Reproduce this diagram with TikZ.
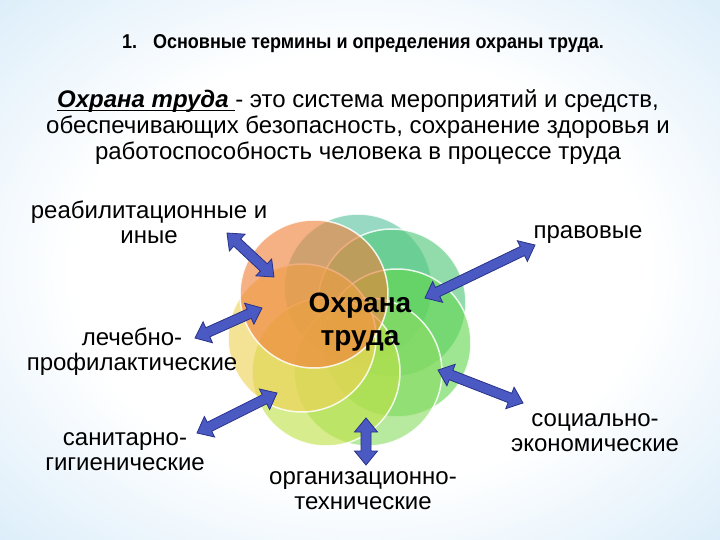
\documentclass[tikz,border=0pt]{standalone}
\usepackage{fontspec}
\setmainfont{Liberation Sans}
\newfontfamily\titlefont{Liberation Sans}[FakeStretch=0.9]
\usetikzlibrary{calc}
\definecolor{bgmid}{RGB}{215,235,249}
\definecolor{bgedge}{RGB}{155,204,240}
\definecolor{csalmon}{RGB}{240,128,58}
\definecolor{cteal}{RGB}{90,195,160}
\definecolor{cgreenA}{RGB}{80,200,120}
\definecolor{cgreenB}{RGB}{100,215,80}
\definecolor{clgreen}{RGB}{140,220,100}
\definecolor{cygreen}{RGB}{192,225,70}
\definecolor{cyellow}{RGB}{240,210,85}
\definecolor{arrfill}{RGB}{75,90,195}
\definecolor{arrline}{RGB}{40,50,135}
\pgfdeclareradialshading{bgshade}{\pgfpoint{0bp}{0bp}}{color(0bp)=(white); color(20bp)=(white); color(38bp)=(bgmid); color(50bp)=(bgedge); color(72bp)=(bgedge)}
\newcommand\myul[1]{\setbox0\hbox{#1}\rlap{\rule[-3.5pt]{\wd0}{1.4pt}}\box0}
\newcommand\dblarrow[2]{%
  \filldraw[arrowstyle] (#1)
    -- ($(#1)!14pt!(#2)!11.5pt!90:(#2)$)
    -- ($(#1)!14pt!(#2)!5pt!90:(#2)$)
    -- ($(#2)!14pt!(#1)!5pt!-90:(#1)$)
    -- ($(#2)!14pt!(#1)!11.5pt!-90:(#1)$)
    -- (#2)
    -- ($(#2)!14pt!(#1)!11.5pt!90:(#1)$)
    -- ($(#2)!14pt!(#1)!5pt!90:(#1)$)
    -- ($(#1)!14pt!(#2)!5pt!-90:(#2)$)
    -- ($(#1)!14pt!(#2)!11.5pt!-90:(#2)$)
    -- cycle;}
\begin{document}
\begin{tikzpicture}[x=1pt,y=-1pt,
  petal/.style={circle, minimum size=148pt, inner sep=0pt, fill opacity=0.62, draw=white, draw opacity=0.85, line width=1.5pt},
  lbl/.style={font=\fontsize{24}{25}\selectfont, align=center, inner sep=0pt},
  arrowstyle/.style={fill=arrfill, draw=arrline, line width=0.8pt, line join=miter}]
\useasboundingbox (0,0) rectangle (720,540);
\shade[shading=bgshade] (0,0) rectangle (720,540);

% petals
\node[petal, fill=cteal]   (p2) at (358,288) {};
\node[petal, fill=cgreenA] (p3) at (392,303) {};
\node[petal, fill=cgreenB] (p4) at (397,343) {};
\node[petal, fill=clgreen] (p5) at (368,372) {};
\node[petal, fill=cygreen] (p6) at (326,372) {};
\node[petal, fill=cyellow] (p7) at (302,338) {};
\node[petal, fill=csalmon] (p1) at (314,294) {};

\node[font=\bfseries\fontsize{28}{33}\selectfont, align=center, inner sep=0pt] (core) at (360,322) {Охрана\\труда};

% header texts
\node[inner sep=0pt] (heading) at (363,44) {\titlefont\bfseries\fontsize{20}{24}\selectfont 1.\hspace{16pt}Основные термины и определения охраны труда.};
\node[font=\fontsize{24}{26}\selectfont, align=center, inner sep=0pt] (defn) at (358,127)
  {\myul{\textbf{\textit{Охрана труда}}\ }- это система мероприятий и средств,\\
   обеспечивающих безопасность, сохранение здоровья и\\
   работоспособность человека в процессе труда};

% labels
\node[lbl] (l1) at (149,222) {реабилитационные и\\иные};
\node[lbl] (l2) at (588,235) {правовые};
\node[lbl] (l3) at (132,352) {лечебно-\\профилактические};
\node[lbl] (l4) at (125,452) {санитарно-\\гигиенические};
\node[lbl] (l5) at (595,433) {социально-\\экономические};
\node[lbl] (l6) at (363,491) {организационно-\\технические};

% arrow ends
\coordinate (a1o) at (227,233); \coordinate (a1i) at (274,277);
\coordinate (a2o) at (535,245); \coordinate (a2i) at (425,298);
\coordinate (a3o) at (195,338); \coordinate (a3i) at (262,308);
\coordinate (a4o) at (197,433); \coordinate (a4i) at (277,393);
\coordinate (a5o) at (523,403); \coordinate (a5i) at (438,370);
\coordinate (a6o) at (366,465); \coordinate (a6i) at (366,418);
\dblarrow{a1o}{a1i}
\dblarrow{a2o}{a2i}
\dblarrow{a3o}{a3i}
\dblarrow{a4o}{a4i}
\dblarrow{a5o}{a5i}
\dblarrow{a6o}{a6i}
\end{tikzpicture}
\end{document}
